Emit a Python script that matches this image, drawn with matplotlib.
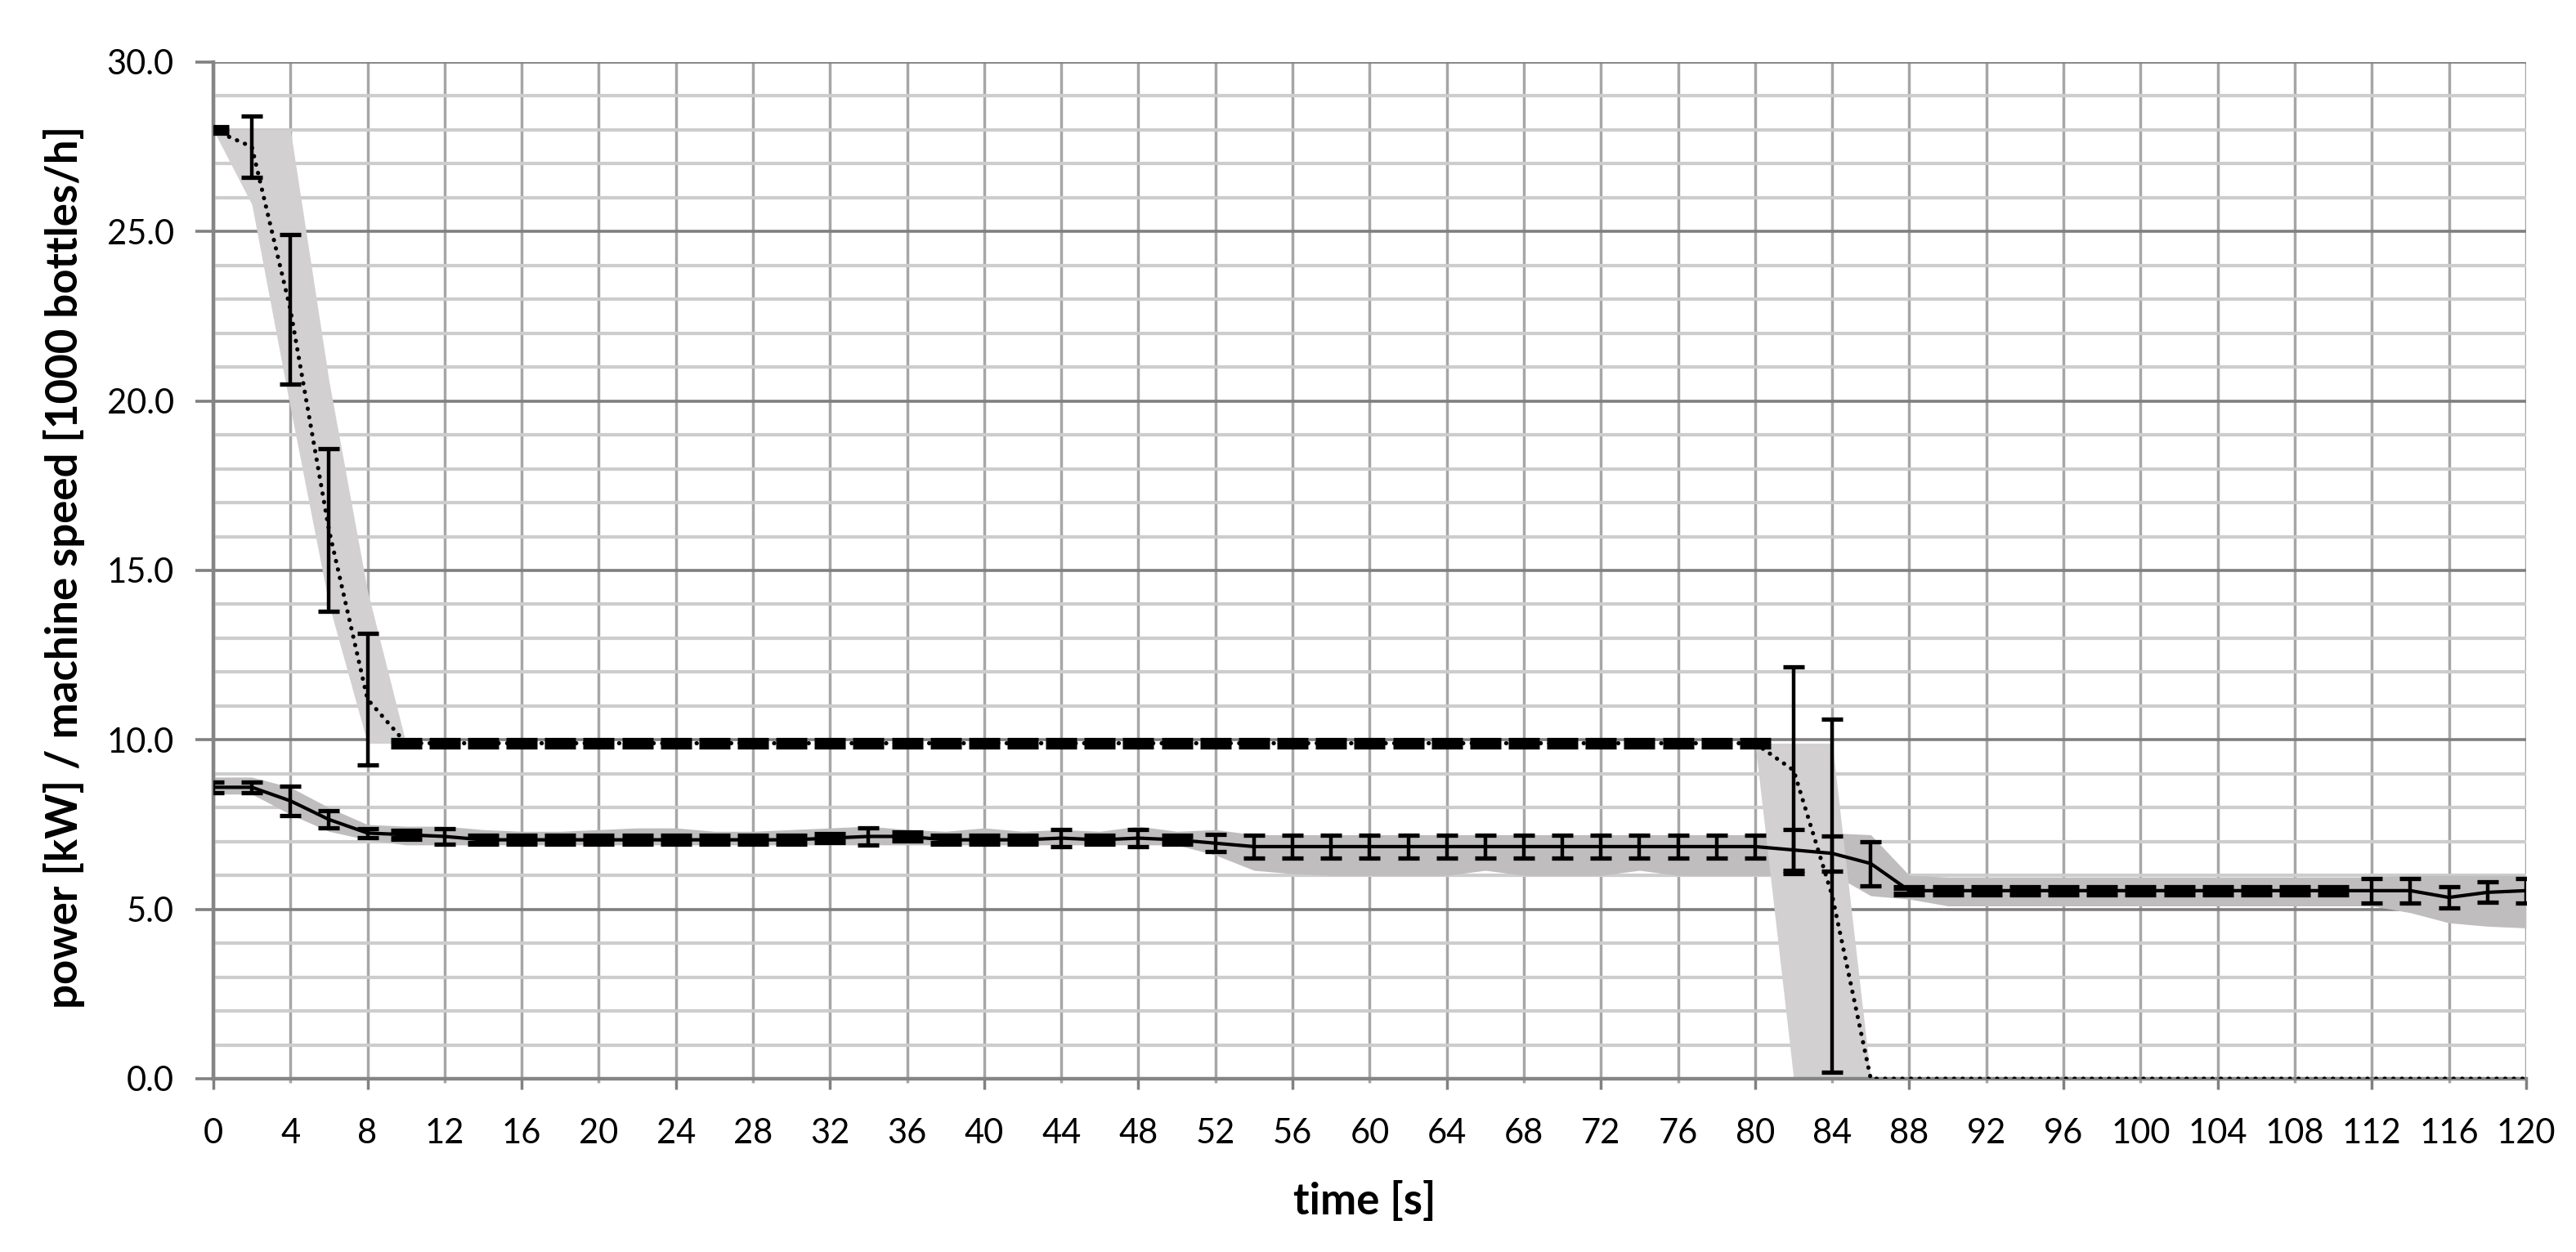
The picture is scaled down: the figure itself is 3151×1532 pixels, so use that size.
import matplotlib
matplotlib.use("Agg")
import matplotlib.pyplot as plt
import numpy as np
from matplotlib.ticker import FormatStrFormatter, MultipleLocator

# time axis, one sample every 2 s
time_s = list(range(0, 121, 2))

# machine speed [1000 bottles/h]: mean, error, min/max envelope
speed_mean = [28.0, 27.5, 22.7, 16.2, 11.2,
              9.9, 9.9, 9.9, 9.9, 9.9, 9.9, 9.9, 9.9, 9.9, 9.9,
              9.9, 9.9, 9.9, 9.9, 9.9, 9.9, 9.9, 9.9, 9.9, 9.9,
              9.9, 9.9, 9.9, 9.9, 9.9, 9.9, 9.9, 9.9, 9.9, 9.9,
              9.9, 9.9, 9.9, 9.9, 9.9, 9.9,
              9.1, 5.4,
              0.0, 0.0, 0.0, 0.0, 0.0, 0.0, 0.0, 0.0, 0.0,
              0.0, 0.0, 0.0, 0.0, 0.0, 0.0, 0.0, 0.0, 0.0]
speed_err = [0.08, 0.9, 2.2, 2.4, 1.95,
             0.08, 0.08, 0.08, 0.08, 0.08, 0.08, 0.08, 0.08, 0.08, 0.08,
             0.08, 0.08, 0.08, 0.08, 0.08, 0.08, 0.08, 0.08, 0.08, 0.08,
             0.08, 0.08, 0.08, 0.08, 0.08, 0.08, 0.08, 0.08, 0.08, 0.08,
             0.08, 0.08, 0.08, 0.08, 0.08, 0.08,
             3.05, 5.2,
             0.0, 0.0, 0.0, 0.0, 0.0, 0.0, 0.0, 0.0, 0.0,
             0.0, 0.0, 0.0, 0.0, 0.0, 0.0, 0.0, 0.0, 0.0]
speed_lo = [28.0, 25.8, 19.8, 14.0, 9.9,
            9.9, 9.9, 9.9, 9.9, 9.9, 9.9, 9.9, 9.9, 9.9, 9.9,
            9.9, 9.9, 9.9, 9.9, 9.9, 9.9, 9.9, 9.9, 9.9, 9.9,
            9.9, 9.9, 9.9, 9.9, 9.9, 9.9, 9.9, 9.9, 9.9, 9.9,
            9.9, 9.9, 9.9, 9.9, 9.9, 9.9,
            0.0, 0.0,
            0.0, 0.0, 0.0, 0.0, 0.0, 0.0, 0.0, 0.0, 0.0,
            0.0, 0.0, 0.0, 0.0, 0.0, 0.0, 0.0, 0.0, 0.0]
speed_hi = [28.0, 28.0, 28.0, 20.6, 14.4,
            9.9, 9.9, 9.9, 9.9, 9.9, 9.9, 9.9, 9.9, 9.9, 9.9,
            9.9, 9.9, 9.9, 9.9, 9.9, 9.9, 9.9, 9.9, 9.9, 9.9,
            9.9, 9.9, 9.9, 9.9, 9.9, 9.9, 9.9, 9.9, 9.9, 9.9,
            9.9, 9.9, 9.9, 9.9, 9.9, 9.9,
            9.9, 9.9,
            0.0, 0.0, 0.0, 0.0, 0.0, 0.0, 0.0, 0.0, 0.0,
            0.0, 0.0, 0.0, 0.0, 0.0, 0.0, 0.0, 0.0, 0.0]

# power [kW]: mean, error, min/max envelope
power_mean = [8.6, 8.6, 8.2, 7.65, 7.25, 7.2, 7.15, 7.05, 7.05, 7.05,
              7.05, 7.05, 7.05, 7.05, 7.05, 7.05, 7.1, 7.15, 7.15, 7.05,
              7.05, 7.05, 7.1, 7.05, 7.1, 7.05, 6.95, 6.85, 6.85, 6.85,
              6.85, 6.85, 6.85, 6.85, 6.85, 6.85, 6.85, 6.85, 6.85, 6.85,
              6.85, 6.75, 6.65, 6.35, 5.55, 5.55, 5.55, 5.55, 5.55, 5.55,
              5.55, 5.55, 5.55, 5.55, 5.55, 5.55, 5.55, 5.55, 5.35, 5.5,
              5.55]
power_err = [0.15, 0.15, 0.43, 0.25, 0.13, 0.1, 0.23, 0.1, 0.1, 0.1,
             0.1, 0.1, 0.1, 0.1, 0.1, 0.1, 0.1, 0.25, 0.1, 0.1,
             0.1, 0.1, 0.25, 0.1, 0.25, 0.1, 0.25, 0.33, 0.33, 0.33,
             0.33, 0.33, 0.33, 0.33, 0.33, 0.33, 0.33, 0.33, 0.33, 0.33,
             0.33, 0.6, 0.52, 0.65, 0.1, 0.1, 0.1, 0.1, 0.1, 0.1,
             0.1, 0.1, 0.1, 0.1, 0.1, 0.1, 0.36, 0.36, 0.32, 0.3,
             0.36]
power_lo = [8.4, 8.4, 7.8, 7.3, 7.05, 6.9, 6.9, 6.9, 6.9, 6.9,
            6.9, 6.9, 6.9, 6.9, 6.9, 6.9, 6.9, 6.9, 6.9, 6.9,
            6.9, 6.9, 6.9, 6.9, 6.9, 6.9, 6.6, 6.15, 6.05, 6.0,
            6.0, 6.0, 6.0, 6.15, 6.0, 6.0, 6.0, 6.15, 6.0, 6.0,
            6.0, 6.0, 6.05, 5.4, 5.3, 5.1, 5.1, 5.1, 5.1, 5.1,
            5.1, 5.1, 5.1, 5.1, 5.1, 5.1, 5.1, 4.9, 4.6, 4.5,
            4.45]
power_hi = [8.9, 8.9, 8.6, 8.0, 7.5, 7.45, 7.45, 7.35, 7.3, 7.3,
            7.35, 7.4, 7.4, 7.3, 7.3, 7.35, 7.4, 7.45, 7.35, 7.3,
            7.4, 7.3, 7.35, 7.3, 7.45, 7.3, 7.35, 7.2, 7.2, 7.2,
            7.2, 7.2, 7.2, 7.2, 7.2, 7.2, 7.2, 7.2, 7.2, 7.2,
            7.2, 7.3, 7.25, 7.2, 6.0, 5.95, 5.95, 5.95, 5.95, 5.95,
            5.95, 5.95, 5.95, 5.95, 5.95, 5.95, 5.95, 6.0, 6.0, 6.0,
            6.0]

plt.rcParams["font.family"] = ["Lato", "DejaVu Sans"]

fig = plt.figure(figsize=(31.51, 15.32), dpi=100)
ax = fig.add_axes([0.0828, 0.1384, 0.8978, 0.812])

t = np.array(time_s)

# envelopes
ax.fill_between(t, power_lo, power_hi, color="#bfbdbd", lw=0, zorder=1)
ax.fill_between(t, speed_lo, speed_hi, color="#d2d0d0", lw=0, zorder=1.5)

# mean curves
ax.plot(t, speed_mean, color="black", lw=3.7, ls=(0, (0.05, 2.0)),
        dash_capstyle="round", zorder=3)
ax.plot(t, power_mean, color="black", lw=3.0, ls="-", zorder=3)


def draw_errors(x, y, e):
    # small spreads show as solid blocks, larger ones as narrow I-bars
    x, y, e = np.asarray(x), np.asarray(y), np.asarray(e)
    small = (e > 0) & (e <= 0.12)
    big = e > 0.12
    ax.errorbar(x[small], y[small], yerr=e[small], fmt="none", ecolor="black",
                elinewidth=3.2, capsize=13.5, capthick=5.2, zorder=4)
    ax.errorbar(x[big], y[big], yerr=e[big], fmt="none", ecolor="black",
                elinewidth=3.2, capsize=9.7, capthick=3.8, zorder=4)


draw_errors(t, speed_mean, speed_err)
draw_errors(t, power_mean, power_err)

ax.set_xlim(0, 120)
ax.set_ylim(0, 30)

ax.xaxis.set_major_locator(MultipleLocator(8))
ax.xaxis.set_minor_locator(MultipleLocator(4))
ax.xaxis.set_minor_formatter(FormatStrFormatter("%d"))
ax.yaxis.set_major_locator(MultipleLocator(5))
ax.yaxis.set_minor_locator(MultipleLocator(1))
ax.yaxis.set_major_formatter(FormatStrFormatter("%.1f"))

ax.set_axisbelow(True)
ax.grid(True, axis="y", which="major", color="#7f7f7f", lw=2.6)
ax.grid(True, axis="y", which="minor", color="#cdcdcd", lw=3.0)
ax.grid(True, axis="x", which="both", color="#a6a6a6", lw=2.5)

ax.tick_params(axis="x", which="major", length=9.5, width=2.5, color="#808080",
               pad=25, labelsize=30)
ax.tick_params(axis="x", which="minor", length=3.6, width=2.5, color="#a6a6a6",
               pad=30.9, labelsize=30)
ax.tick_params(axis="y", which="major", length=16, width=2.6, color="#808080",
               pad=18.6, labelsize=30)
ax.tick_params(axis="y", which="minor", length=0)

for s in ["top", "right"]:
    ax.spines[s].set_visible(False)
for s in ["left", "bottom"]:
    ax.spines[s].set_color("#858585")
    ax.spines[s].set_linewidth(3.2)

ax.set_xlabel("time [s]", fontsize=38, fontweight="bold")
ax.set_ylabel("power [kW] / machine speed [1000 bottles/h]", fontsize=38,
              fontweight="bold")
ax.xaxis.set_label_coords(0.498, -0.1005)
ax.yaxis.set_label_coords(-0.0555, 0.503)

fig.savefig("out.png", dpi=100)
